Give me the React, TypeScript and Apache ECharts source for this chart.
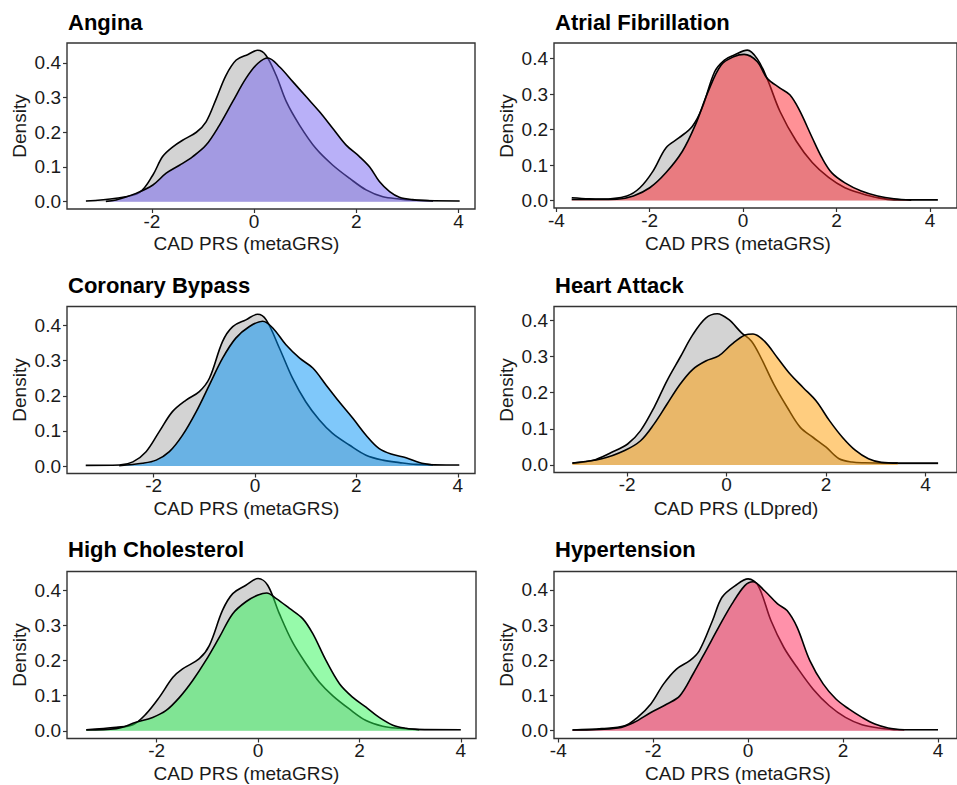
import React, { useEffect, useRef } from "react";
import * as echarts from "echarts";

// ---- Data (x = CAD PRS, y = density) ----
const anginaControl = [[-3.29,0.002],[-2.7,0.01],[-2.24,0.027],[-1.98,0.077],[-1.79,0.13],[-1.59,0.158],[-1.4,0.177],[-1.13,0.2],[-0.94,0.23],[-0.74,0.297],[-0.55,0.364],[-0.35,0.408],[-0.12,0.424],[0.07,0.436],[0.23,0.422],[0.43,0.364],[0.63,0.288],[0.89,0.22],[1.21,0.153],[1.54,0.105],[1.87,0.067],[2.19,0.034],[2.52,0.014],[2.84,0.008],[3.17,0.004],[4.02,0.002]];
const anginaCase = [[-2.9,0.001],[-2.7,0.005],[-2.31,0.024],[-1.98,0.048],[-1.72,0.082],[-1.46,0.105],[-1.2,0.13],[-0.94,0.163],[-0.68,0.22],[-0.42,0.288],[-0.16,0.355],[0.07,0.398],[0.27,0.414],[0.5,0.388],[0.76,0.345],[1.02,0.302],[1.28,0.259],[1.54,0.211],[1.8,0.163],[2.06,0.13],[2.26,0.1],[2.45,0.058],[2.65,0.029],[2.84,0.013],[3.1,0.006],[3.5,0.002]];

const afibControl = [[-3.67,0.008],[-3.3,0.005],[-3.04,0.004],[-2.49,0.013],[-2.21,0.036],[-1.93,0.083],[-1.65,0.149],[-1.37,0.177],[-1.09,0.209],[-0.88,0.26],[-0.61,0.363],[-0.4,0.396],[-0.19,0.41],[0.09,0.424],[0.3,0.4],[0.51,0.345],[0.79,0.251],[1.14,0.167],[1.48,0.107],[1.83,0.065],[2.18,0.036],[2.53,0.02],[2.88,0.008],[3.23,0.002],[4.17,0.002]];
const afibCase = [[-3.67,0.003],[-2.7,0.004],[-2.35,0.013],[-2.0,0.036],[-1.65,0.079],[-1.3,0.139],[-1.02,0.214],[-0.75,0.307],[-0.47,0.382],[-0.19,0.406],[0.02,0.412],[0.3,0.392],[0.51,0.345],[0.79,0.317],[1.0,0.298],[1.2,0.256],[1.48,0.177],[1.69,0.12],[1.9,0.078],[2.18,0.05],[2.53,0.027],[2.88,0.013],[3.23,0.005],[3.6,0.001]];

const bypassControl = [[-3.34,0.002],[-2.68,0.003],[-2.41,0.012],[-2.15,0.041],[-1.89,0.098],[-1.63,0.155],[-1.36,0.188],[-1.1,0.212],[-0.9,0.25],[-0.64,0.355],[-0.44,0.397],[-0.18,0.416],[0.05,0.432],[0.22,0.416],[0.48,0.336],[0.74,0.25],[1.0,0.183],[1.27,0.131],[1.53,0.093],[1.86,0.06],[2.19,0.031],[2.52,0.017],[2.85,0.01],[3.18,0.005],[4.03,0.003]];
const bypassCase = [[-2.68,0.001],[-2.22,0.008],[-1.95,0.017],[-1.69,0.041],[-1.43,0.088],[-1.16,0.155],[-0.9,0.231],[-0.64,0.307],[-0.38,0.364],[-0.11,0.397],[0.15,0.412],[0.35,0.393],[0.61,0.345],[0.88,0.307],[1.14,0.279],[1.4,0.231],[1.66,0.183],[1.93,0.136],[2.19,0.088],[2.45,0.05],[2.72,0.033],[2.98,0.024],[3.24,0.01],[3.51,0.003]];

const heartControl = [[-3.1,0.005],[-2.7,0.012],[-2.31,0.035],[-1.99,0.058],[-1.73,0.095],[-1.46,0.159],[-1.2,0.233],[-0.94,0.297],[-0.68,0.361],[-0.42,0.407],[-0.19,0.419],[0.04,0.403],[0.3,0.366],[0.5,0.343],[0.69,0.297],[0.95,0.223],[1.22,0.159],[1.48,0.104],[1.74,0.076],[2.0,0.049],[2.26,0.017],[2.52,0.008],[2.78,0.006],[3.18,0.005],[4.25,0.005]];
const heartCase = [[-3.1,0.005],[-2.51,0.017],[-2.05,0.04],[-1.73,0.067],[-1.46,0.113],[-1.2,0.168],[-0.94,0.223],[-0.68,0.265],[-0.42,0.288],[-0.16,0.302],[0.1,0.334],[0.37,0.36],[0.53,0.363],[0.76,0.343],[1.02,0.297],[1.28,0.251],[1.54,0.214],[1.8,0.177],[2.07,0.122],[2.33,0.076],[2.59,0.04],[2.85,0.017],[3.11,0.007],[3.44,0.005]];

const cholControl = [[-3.39,0.003],[-2.8,0.01],[-2.47,0.017],[-2.21,0.048],[-1.95,0.095],[-1.68,0.152],[-1.49,0.176],[-1.16,0.205],[-0.96,0.243],[-0.7,0.343],[-0.5,0.39],[-0.24,0.414],[0.0,0.433],[0.19,0.414],[0.42,0.333],[0.68,0.252],[0.95,0.19],[1.21,0.138],[1.47,0.1],[1.8,0.062],[2.13,0.029],[2.46,0.013],[2.79,0.007],[3.12,0.004],[4.0,0.003]];
const cholCase = [[-3.39,0.002],[-2.8,0.006],[-2.41,0.024],[-2.08,0.038],[-1.82,0.057],[-1.55,0.095],[-1.29,0.143],[-1.03,0.2],[-0.76,0.267],[-0.5,0.333],[-0.24,0.367],[0.0,0.386],[0.17,0.392],[0.36,0.376],[0.62,0.348],[0.88,0.319],[1.08,0.276],[1.34,0.2],[1.61,0.133],[1.87,0.095],[2.13,0.067],[2.39,0.038],[2.66,0.016],[2.92,0.007],[3.18,0.003]];

const hyperControl = [[-3.7,0.002],[-3.08,0.006],[-2.6,0.014],[-2.33,0.038],[-2.05,0.076],[-1.78,0.133],[-1.51,0.175],[-1.23,0.199],[-1.03,0.227],[-0.75,0.313],[-0.55,0.379],[-0.27,0.412],[0.0,0.431],[0.21,0.412],[0.48,0.313],[0.75,0.237],[1.03,0.18],[1.37,0.118],[1.71,0.071],[2.05,0.038],[2.4,0.017],[2.74,0.008],[3.15,0.003],[4.0,0.003]];
const hyperCase = [[-3.7,0.002],[-2.74,0.008],[-2.4,0.024],[-2.05,0.052],[-1.71,0.076],[-1.44,0.099],[-1.16,0.161],[-0.89,0.227],[-0.62,0.294],[-0.34,0.36],[-0.07,0.412],[0.1,0.423],[0.34,0.398],[0.62,0.36],[0.82,0.341],[1.03,0.294],[1.3,0.199],[1.58,0.133],[1.85,0.09],[2.12,0.062],[2.4,0.038],[2.67,0.019],[2.95,0.008],[3.29,0.003]];

const titles = ["Angina", "Atrial Fibrillation", "Coronary Bypass", "Heart Attack", "High Cholesterol", "Hypertension"];
const xAxisTitles = ["CAD PRS (metaGRS)", "CAD PRS (metaGRS)", "CAD PRS (metaGRS)", "CAD PRS (LDpred)", "CAD PRS (metaGRS)", "CAD PRS (metaGRS)"];
const yAxisTitle = "Density";
const xTicksShort = [-2, 0, 2, 4];
const xTicksLong = [-4, -2, 0, 2, 4];
const yTicks = [0, 0.1, 0.2, 0.3, 0.4];

const FONT = "'Liberation Sans', Arial, Helvetica, sans-serif";

const panels = [
  { control: anginaControl, cases: anginaCase, fill: "rgba(115,97,241,0.5)", grid: { left: 67, top: 43, width: 408, height: 166 }, xr: [-3.66, 4.32], yr: [-0.021, 0.457], ticks: xTicksShort, titlePos: [68, 11], xNamePos: [246.5, 243], yNamePos: [19, 126] },
  { control: afibControl, cases: afibCase, fill: "rgba(255,35,45,0.5)", grid: { left: 554, top: 43, width: 413, height: 165 }, xr: [-4.05, 4.58], yr: [-0.021, 0.444], ticks: xTicksLong, titlePos: [555, 11], xNamePos: [738, 243], yNamePos: [506, 126] },
  { control: bypassControl, cases: bypassCase, fill: "rgba(0,145,245,0.5)", grid: { left: 67, top: 306.5, width: 408, height: 167 }, xr: [-3.71, 4.34], yr: [-0.021, 0.454], ticks: xTicksShort, titlePos: [68, 274], xNamePos: [246.5, 508], yNamePos: [19, 390] },
  { control: heartControl, cases: heartCase, fill: "rgba(255,155,0,0.5)", grid: { left: 554, top: 306.5, width: 413, height: 166 }, xr: [-3.47, 4.63], yr: [-0.021, 0.439], ticks: xTicksShort, titlePos: [555, 274], xNamePos: [736, 508], yNamePos: [506, 390] },
  { control: cholControl, cases: cholCase, fill: "rgba(45,245,85,0.5)", grid: { left: 67, top: 571.5, width: 409, height: 167 }, xr: [-3.77, 4.3], yr: [-0.022, 0.453], ticks: xTicksShort, titlePos: [68, 538], xNamePos: [246.5, 773], yNamePos: [19, 655] },
  { control: hyperControl, cases: hyperCase, fill: "rgba(255,35,85,0.5)", grid: { left: 554, top: 571.5, width: 413, height: 167 }, xr: [-4.09, 4.4], yr: [-0.022, 0.452], ticks: xTicksLong, titlePos: [555, 538], xNamePos: [738, 773], yNamePos: [506, 655] },
];

export default function App() {
  const ref = useRef<HTMLDivElement>(null);

  useEffect(() => {
    if (!ref.current) return;
    const chart = echarts.init(ref.current, null, { renderer: "svg" });

    const grid: any[] = [];
    const xAxis: any[] = [];
    const yAxis: any[] = [];
    const series: any[] = [];
    const title: any[] = [];
    const graphic: any[] = [];

    panels.forEach((p, i) => {
      grid.push({ ...p.grid, show: true, borderColor: "#333", borderWidth: 1.4, backgroundColor: "#fff" });
      xAxis.push({
        type: "value", gridIndex: i, min: p.xr[0], max: p.xr[1],
        axisLine: { show: false, onZero: false },
        axisTick: { show: true, length: 4, customValues: p.ticks, lineStyle: { color: "#333", width: 1.2 } },
        axisLabel: { customValues: p.ticks, fontSize: 19, color: "#1a1a1a", fontFamily: FONT, margin: 3, lineHeight: 18, formatter: (v: number) => String(v) },
        splitLine: { show: false },
      });
      yAxis.push({
        type: "value", gridIndex: i, min: p.yr[0], max: p.yr[1],
        axisLine: { show: false, onZero: false },
        axisTick: { show: true, length: 4, customValues: yTicks, lineStyle: { color: "#333", width: 1.2 } },
        axisLabel: { customValues: yTicks, fontSize: 19, color: "#1a1a1a", fontFamily: FONT, margin: 6, formatter: (v: number) => v.toFixed(1) },
        splitLine: { show: false },
      });
      series.push({
        type: "line", xAxisIndex: i, yAxisIndex: i, data: p.control, showSymbol: false,
        smooth: 0.35,
        lineStyle: { color: "#000", width: 1.6 }, areaStyle: { color: "#d3d3d3", opacity: 1 }, z: 2,
      });
      series.push({
        type: "line", xAxisIndex: i, yAxisIndex: i, data: p.cases, showSymbol: false,
        smooth: 0.35,
        lineStyle: { color: "#000", width: 1.6 }, areaStyle: { color: p.fill, opacity: 1 }, z: 3,
      });
      title.push({
        text: titles[i], left: p.titlePos[0], top: p.titlePos[1], padding: 0,
        textStyle: { fontSize: 22, fontWeight: "bold", color: "#000", fontFamily: FONT },
      });
      graphic.push({
        type: "text", x: p.xNamePos[0], y: p.xNamePos[1],
        style: { text: xAxisTitles[i], fill: "#1a1a1a", font: `19px ${FONT}`, textAlign: "center", textVerticalAlign: "middle" },
      });
      graphic.push({
        type: "text", x: p.yNamePos[0], y: p.yNamePos[1], rotation: Math.PI / 2,
        style: { text: yAxisTitle, fill: "#1a1a1a", font: `19px ${FONT}`, textAlign: "center", textVerticalAlign: "middle" },
      });
    });

    chart.setOption({
      animation: false,
      backgroundColor: "#fff",
      title, grid, xAxis, yAxis, series, graphic,
    });

    return () => chart.dispose();
  }, []);

  return <div ref={ref} style={{ position: "fixed", left: 0, top: 0, width: 957, height: 785 }} />;
}
